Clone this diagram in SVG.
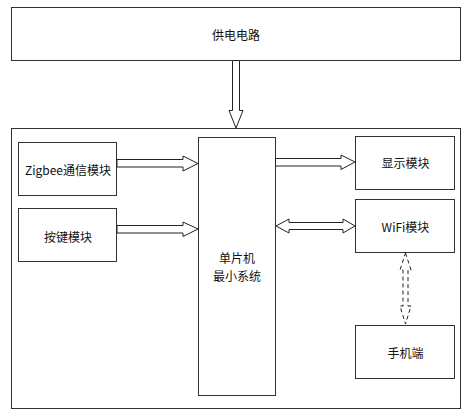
<svg xmlns="http://www.w3.org/2000/svg" width="476" height="419" viewBox="0 0 476 419">
<style>
.box{fill:#fff;stroke:#333;stroke-width:1}
.arr{fill:#fff;stroke:#222;stroke-width:1}
.dash{fill:#fff;stroke:#222;stroke-width:1;stroke-dasharray:4,3}
text{font-family:"Noto Sans CJK SC","Liberation Sans",sans-serif;font-size:12px;fill:#111;text-anchor:middle;dominant-baseline:central}
</style>
<rect width="476" height="419" fill="#fff"/>
<g id="power"><rect class="box" x="11.5" y="7.5" width="449" height="53"/><text x="236" y="34">供电电路</text></g>
<g id="system"><rect class="box" x="11.5" y="128.5" width="449" height="280"/></g>
<g id="zigbee"><rect class="box" x="18.5" y="142.5" width="98" height="53"/><text x="68" y="169">Zigbee通信模块</text></g>
<g id="keys"><rect class="box" x="18.5" y="208.5" width="98" height="53"/><text x="68" y="236">按键模块</text></g>
<g id="mcu"><rect class="box" x="198.5" y="137.5" width="77" height="258"/><text x="237" y="257">单片机</text><text x="237" y="275">最小系统</text></g>
<g id="display"><rect class="box" x="355.5" y="136.5" width="99" height="53"/><text x="405.5" y="162">显示模块</text></g>
<g id="wifi"><rect class="box" x="355.5" y="199.5" width="99" height="53"/><text x="405.5" y="226.5">WiFi模块</text></g>
<g id="phone"><rect class="box" x="355.5" y="325.5" width="99" height="53"/><text x="405.5" y="352">手机端</text></g>
<g id="connectors">
<polygon class="arr" points="232.5,60.5 239.5,60.5 239.5,110.5 243,110.5 236,128 229,110.5 232.5,110.5"/>
<polygon class="arr" points="117,159.5 183,159.5 183,156 198,163.5 183,171 183,167 117,167"/>
<polygon class="arr" points="117,225.5 183,225.5 183,222 198,229 183,236.5 183,233 117,233"/>
<polygon class="arr" points="275.5,158.5 341,158.5 341,155 355,162 341,169.5 341,166 275.5,166"/>
<polygon class="arr" points="276,226 289,219 289,222.5 343,222.5 343,219 355,226 343,233 343,229.5 289,229.5 289,233"/>
<polygon class="dash" points="405.5,253 411,270 408,270 408,306 411,306 405.5,324 400,306 403,306 403,270 400,270"/>
</g>
</svg>
